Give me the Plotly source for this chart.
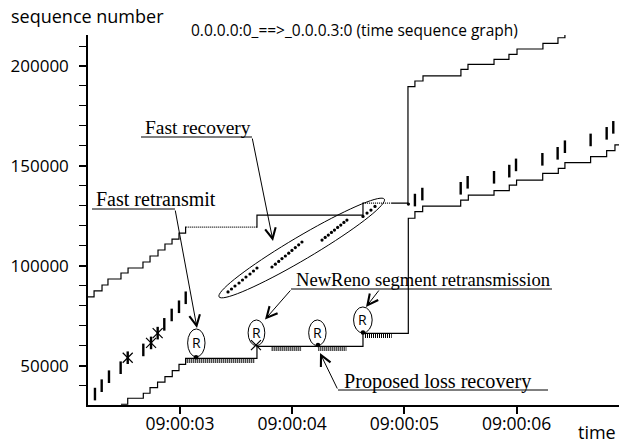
import math
import plotly.graph_objects as go

# ---------------- data (time in seconds after 09:00:00, sequence numbers) -------------
upper_t = [2.180, 2.234, 2.305, 2.358, 2.474, 2.537, 2.670, 2.733, 2.804, 2.866, 2.929,
           2.991, 3.050, 3.686, 4.631, 5.032, 5.094, 5.166, 5.504, 5.567, 5.799, 5.932,
           6.004, 6.235, 6.369, 6.431]
upper_s = [84400, 87400, 90400, 93400, 96400, 98900, 101900, 104900, 107900, 110900, 113400,
           116400, 119400, 125400, 131400, 189650, 192500, 195100, 198350, 200850, 203350,
           205850, 208500, 211350, 214150, 216850]

upper_dotted_t0 = [3.050, 4.631]
upper_dotted_t1 = [3.686, 4.900]
upper_dotted_s = [119400, 131400]

lower_t = [2.474, 2.534, 2.673, 2.733, 2.800, 2.866, 2.931, 2.991, 3.050, 3.686, 4.631,
           5.035, 5.094, 5.163, 5.502, 5.570, 5.799, 5.935, 6.000, 6.233, 6.372, 6.431,
           6.660, 6.803, 6.877, 6.950]
lower_s = [30700, 33700, 36200, 39000, 41800, 44500, 47500, 50700, 53700, 59700, 66200,
           123800, 127100, 129900, 132900, 135400, 137600, 140400, 142900, 146300, 148800,
           151600, 154600, 157600, 160500, 160500]

# duplicate-ack comb intervals below the ack line
comb_t0 = [3.060, 3.817, 4.233, 4.649]
comb_t1 = [3.668, 4.085, 4.486, 4.887]
comb_s = [53700, 59700, 59700, 66200]

# transmitted segments
seg_t = [2.242, 2.302, 2.367, 2.471, 2.534, 2.673, 2.742, 2.801, 2.860, 2.926, 2.991, 3.051,
         5.094, 5.160, 5.502, 5.564, 5.799, 5.935, 5.995, 6.230, 6.366, 6.431, 6.660, 6.803,
         6.862]
seg_s = [35800, 40000, 44500, 49000, 54000, 57900, 61400, 66300, 70700, 75400, 79500, 84000,
         132900, 135900, 138800, 141800, 144300, 147400, 150500, 153300, 156300, 159600,
         163000, 166300, 169300]

# lost segments (X marks)
loss_t = [2.534, 2.742, 2.801, 3.677]
loss_s = [54000, 61400, 66300, 60300]

# fast-recovery segments (small dots)
fr_t = [3.428, 3.459, 3.490, 3.526, 3.557, 3.588, 3.624, 3.655, 3.686,
        3.820, 3.850, 3.880, 3.909, 3.939, 3.969, 3.998, 4.028, 4.058, 4.087,
        4.266, 4.294, 4.322, 4.350, 4.377, 4.405, 4.433, 4.461, 4.488,
        4.631, 4.667, 4.702, 4.738, 5.036]
fr_s = [86900, 88400, 89900, 91400, 92900, 94400, 95900, 97400, 98900,
        99400, 100800, 102200, 103600, 104900, 106300, 107700, 109100, 110500, 111900,
        112900, 114200, 115400, 116700, 117900, 119200, 120400, 121700, 122900,
        124700, 126400, 127900, 129700, 130900]

# retransmissions (R)
rtx_t = [3.143, 4.230, 4.631]
rtx_s = [54200, 60300, 66600]
r_t0 = [3.068, 3.607, 4.147, 4.547]
r_t1 = [3.223, 3.756, 4.302, 4.713]
r_s0 = [54400, 60000, 60000, 66400]
r_s1 = [68400, 72900, 72900, 79400]

x_tickvals = [3, 4, 5, 6]
x_ticktext = ["09:00:03", "09:00:04", "09:00:05", "09:00:06"]
y_tickvals = [50000, 100000, 150000, 200000]
y_ticktext = ["50000", "100000", "150000", "200000"]

# ---------------- layout geometry ----------------
W_PX, H_PX = 619, 443
L, T, R, B = 88, 35, 0, 38
PW, PH = W_PX - L - R, H_PX - T - B
X0, X1 = 2.180, 6.913
Y0, Y1 = 30330, 215516
S_PER_PX = (Y1 - Y0) / PH


def px2t(px):
    return X0 + (px - L) / PW * (X1 - X0)


def py2s(py):
    return Y0 + (T + PH - py) / PH * (Y1 - Y0)


def paper_x(px):
    return (px - L) / PW


def paper_y(py):
    return (T + PH - py) / PH


fig = go.Figure()

# advertised window line
fig.add_trace(go.Scatter(x=upper_t, y=upper_s, mode="lines",
                         line=dict(color="black", width=1.2, shape="hv"),
                         hoverinfo="skip", showlegend=False))
for a, b, s in zip(upper_dotted_t0, upper_dotted_t1, upper_dotted_s):
    fig.add_trace(go.Scatter(x=[a + 0.01, b - 0.01], y=[s, s], mode="lines",
                             line=dict(color="white", width=2.2, dash="1px,1px"),
                             hoverinfo="skip", showlegend=False))

# ack line
fig.add_trace(go.Scatter(x=lower_t, y=lower_s, mode="lines",
                         line=dict(color="black", width=1.2, shape="hv"),
                         hoverinfo="skip", showlegend=False))
for a, b, s in zip(comb_t0, comb_t1, comb_s):
    off = 2.6 * S_PER_PX
    fig.add_trace(go.Scatter(x=[a, b], y=[s - off, s - off], mode="lines",
                             line=dict(color="black", width=4, dash="1px,1px"),
                             hoverinfo="skip", showlegend=False))

# segments
fig.add_trace(go.Scatter(x=seg_t, y=seg_s, mode="markers",
                         marker=dict(symbol="line-ns-open", size=9, color="black",
                                     line=dict(color="black", width=2.4)),
                         hoverinfo="skip", showlegend=False))
fig.add_trace(go.Scatter(x=loss_t, y=loss_s, mode="markers",
                         marker=dict(symbol="x-thin-open", size=10, color="black",
                                     line=dict(color="black", width=1.2)),
                         hoverinfo="skip", showlegend=False))
fig.add_trace(go.Scatter(x=fr_t, y=fr_s, mode="markers",
                         marker=dict(symbol="circle", size=3.2, color="black"),
                         hoverinfo="skip", showlegend=False))
fig.add_trace(go.Scatter(x=rtx_t, y=rtx_s, mode="markers",
                         marker=dict(symbol="circle", size=4.5, color="black"),
                         hoverinfo="skip", showlegend=False))

shapes = []
annotations = []

# R ellipses
for a, b, s0, s1 in zip(r_t0, r_t1, r_s0, r_s1):
    shapes.append(dict(type="circle", xref="x", yref="y", x0=a, x1=b, y0=s0, y1=s1,
                       line=dict(color="black", width=1)))
    annotations.append(dict(x=(a + b) / 2, y=(s0 + s1) / 2, xref="x", yref="y",
                            text="R", showarrow=False,
                            font=dict(family="Open Sans", size=14, color="black")))

# big tilted ellipse around fast recovery
cx, cy, ea, eb, phi = 301.7, 248.0, 96.0, 11.5, math.radians(30.6)
pts = []
for k in range(73):
    th = 2 * math.pi * k / 72
    ex = cx + ea * math.cos(th) * math.cos(phi) - eb * math.sin(th) * math.sin(phi)
    ey = cy - (ea * math.cos(th) * math.sin(phi) + eb * math.sin(th) * math.cos(phi))
    pts.append((px2t(ex), py2s(ey)))
path = "M " + " L ".join(f"{p[0]:.5f},{p[1]:.1f}" for p in pts) + " Z"
shapes.append(dict(type="path", xref="x", yref="y", path=path,
                   line=dict(color="black", width=1)))


def label(text, size, cx_px, cy_px, ul_x0, ul_x1, ul_y, arrows):
    annotations.append(dict(x=px2t(cx_px), y=py2s(cy_px), xref="x", yref="y",
                            text=text, showarrow=False,
                            font=dict(family="Liberation Serif", size=size, color="black")))
    shapes.append(dict(type="line", xref="x", yref="y",
                       x0=px2t(ul_x0), x1=px2t(ul_x1), y0=py2s(ul_y), y1=py2s(ul_y),
                       line=dict(color="black", width=1)))
    for (sx, sy, ex, ey) in arrows:
        annotations.append(dict(x=px2t(ex), y=py2s(ey), ax=px2t(sx), ay=py2s(sy),
                                xref="x", yref="y", axref="x", ayref="y", text="",
                                showarrow=True, arrowhead=5, arrowsize=2.1,
                                arrowwidth=1, arrowcolor="black",
                                standoff=0, startstandoff=0))


label("Fast recovery", 19.5, 197.5, 127, 141, 252, 137, [(252, 137, 273, 241)])
label("Fast retransmit", 20, 156, 198.5, 92, 175, 209, [(175, 209, 197, 328)])
label("NewReno segment retransmission", 18.6, 423, 279, 291, 552, 289,
      [(291.7, 289, 265, 319.5), (380, 289, 366, 307)])
label("Proposed loss recovery", 20.2, 437.5, 381, 338, 548, 390, [(338, 390, 320, 353)])

sans = "Open Sans"
annotations.append(dict(x=paper_x(354), y=paper_y(30), xref="paper", yref="paper",
                        text="0.0.0.0:0_==>_0.0.0.3:0 (time sequence graph)",
                        showarrow=False, xanchor="center", yanchor="middle",
                        font=dict(family=sans, size=15.5, color="black")))
annotations.append(dict(x=paper_x(9), y=paper_y(16), xref="paper", yref="paper",
                        text="sequence number", showarrow=False, xanchor="left",
                        yanchor="middle", font=dict(family=sans, size=18, color="black")))
annotations.append(dict(x=paper_x(576), y=paper_y(432), xref="paper", yref="paper",
                        text="time", showarrow=False, xanchor="left",
                        yanchor="middle", font=dict(family=sans, size=18, color="black")))

fig.update_layout(
    width=W_PX, height=H_PX, autosize=False,
    margin=dict(l=L, r=R, t=T, b=B, pad=0),
    plot_bgcolor="white", paper_bgcolor="white",
    shapes=shapes, annotations=annotations,
    xaxis=dict(range=[X0, X1], showgrid=False, zeroline=False, showline=True,
               linecolor="black", linewidth=1.5, ticks="outside", ticklen=7,
               tickwidth=1.5, tickcolor="black", tickvals=x_tickvals,
               ticktext=x_ticktext, ticklabelstandoff=-5,
               tickfont=dict(family=sans, size=17.5, color="black")),
    yaxis=dict(range=[Y0, Y1], showgrid=False, zeroline=False, showline=True,
               linecolor="black", linewidth=1.5, ticks="outside", ticklen=7,
               tickwidth=1.5, tickcolor="black", tickvals=y_tickvals,
               ticktext=y_ticktext, ticklabelstandoff=7,
               tickfont=dict(family=sans, size=17, color="black"),
               minor=dict(dtick=10000, tick0=0, ticks="outside", ticklen=7,
                          tickwidth=1.2, tickcolor="black", showgrid=False)),
)

fig.write_html("out.html")
